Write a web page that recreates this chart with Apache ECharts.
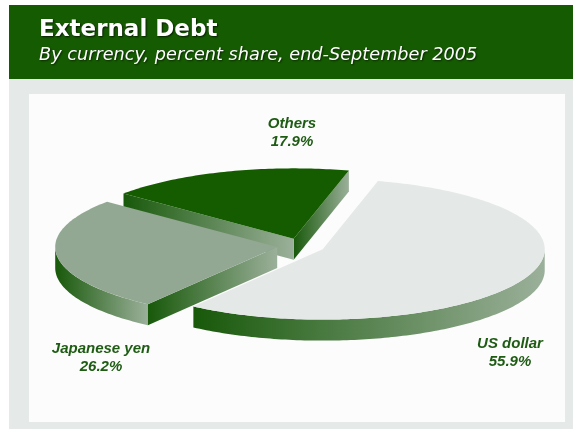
<!DOCTYPE html>
<html>
<head>
<meta charset="utf-8">
<script src="https://cdn.jsdelivr.net/npm/echarts@6/dist/echarts.min.js"></script>
<style>
  html, body { margin: 0; padding: 0; background: #ffffff; }
  #chart { width: 573px; height: 429px; }
</style>
</head>
<body>
<div id="chart"></div>
<script>
// Currency shares, listed counter-clockwise starting from the first slice edge
const categories = ['Others', 'Japanese yen', 'US dollar'];
const shares = [17.9, 26.2, 55.9];

const titleText = 'External Debt';
const subtitleText = 'By currency, percent share, end-September 2005';

// Pie geometry (unit circle on hidden value axes; ellipse comes from the grid aspect)
const START_DEG = 75.6;     // angle of the first slice edge
const EXPLODE = 0.108;      // slice offset along its bisector, in radii
const DEPTH = 21;           // slab thickness in px

const topColors = ['#155b00', '#92a892', '#e4e8e6'];
const SIDE_DARK = '#18590a';
const SIDE_LIGHT = '#9bb09a';

// Build slice angle ranges from the shares
const total = shares.reduce((a, b) => a + b, 0);
const sliceData = [];
let acc = START_DEG;
shares.forEach((v, i) => {
  const span = v / total * 360;
  sliceData.push([acc, acc + span, v, i]);
  acc += span;
});

const rad = d => d * Math.PI / 180;

function sideFill() {
  return new echarts.graphic.LinearGradient(0, 0, 1, 0, [
    { offset: 0, color: SIDE_DARK },
    { offset: 1, color: SIDE_LIGHT }
  ]);
}

function renderSlice(params, api) {
  const s0 = api.value(0), s1 = api.value(1), idx = api.value(3);
  const mid = rad((s0 + s1) / 2);
  const ex = EXPLODE * Math.cos(mid), ey = EXPLODE * Math.sin(mid);
  const pt = deg => api.coord([ex + Math.cos(rad(deg)), ey + Math.sin(rad(deg))]);
  const down = p => [p[0], p[1] + DEPTH];
  const apex = api.coord([ex, ey]);

  const arc = (a, b) => {
    const pts = [];
    const n = Math.max(2, Math.ceil(Math.abs(b - a)));
    for (let k = 0; k <= n; k++) pts.push(pt(a + (b - a) * k / n));
    return pts;
  };

  const children = [];

  // Front part of the rim (where the slab's outer wall faces the viewer)
  for (let base = 180; base <= 540; base += 360) {
    const lo = Math.max(s0, base), hi = Math.min(s1, base + 180);
    if (hi > lo) {
      const topArc = arc(lo, hi);
      const bottomArc = topArc.map(down).reverse();
      children.push({
        type: 'polygon',
        shape: { points: topArc.concat(bottomArc) },
        style: { fill: sideFill() }
      });
    }
  }

  // Radial walls facing the viewer
  const wall = deg => {
    const r = pt(deg);
    children.push({
      type: 'polygon',
      shape: { points: [apex, r, down(r), down(apex)] },
      style: { fill: sideFill() }
    });
  };
  if (Math.cos(rad(s0)) > 0) wall(s0);
  if (Math.cos(rad(s1)) < 0) wall(s1);

  // Top face
  children.push({
    type: 'polygon',
    shape: { points: [apex].concat(arc(s0, s1)) },
    style: { fill: topColors[idx] }
  });

  return { type: 'group', children: children };
}

const labelFont = {
  fontFamily: 'Liberation Sans, Arial, sans-serif',
  fontWeight: 'bold',
  fontStyle: 'italic',
  fontSize: 15,
  lineHeight: 18,
  fill: '#1e5c14',
  textAlign: 'center',
  textVerticalAlign: 'middle',
  align: 'center',
  verticalAlign: 'middle'
};
const labelPos = [[292, 133], [101, 358], [510, 353]];

const labels = categories.map((c, i) => ({
  type: 'text',
  x: labelPos[i][0],
  y: labelPos[i][1],
  z: 10,
  style: Object.assign({ text: c + '\n' + shares[i].toFixed(1) + '%' }, labelFont)
}));

const chart = echarts.init(document.getElementById('chart'), null, { renderer: 'canvas' });

chart.setOption({
  animation: false,
  backgroundColor: '#ffffff',
  grid: { left: 79, top: 175.6, width: 444, height: 140.8 },
  xAxis: { type: 'value', min: -1, max: 1, show: false },
  yAxis: { type: 'value', min: -1, max: 1, show: false },
  graphic: [
    { type: 'rect', shape: { x: 9, y: 5, width: 564, height: 74 }, style: { fill: '#155b02' }, z: -10 },
    { type: 'rect', shape: { x: 9, y: 79, width: 564, height: 350 }, style: { fill: '#e5e9e7' }, z: -10 },
    { type: 'rect', shape: { x: 29, y: 94, width: 536, height: 328 }, style: { fill: '#fcfcfc' }, z: -9 },
    {
      type: 'text', x: 39, y: 30.5, z: 10,
      style: {
        text: titleText, fill: '#ffffff',
        fontFamily: 'DejaVu Sans, sans-serif', fontWeight: 'bold', fontSize: 23,
        verticalAlign: 'middle', textVerticalAlign: 'middle',
        textShadowColor: 'rgba(0,0,0,0.7)', textShadowBlur: 2,
        textShadowOffsetX: 1, textShadowOffsetY: 1
      }
    },
    {
      type: 'text', x: 39, y: 55, z: 10,
      style: {
        text: subtitleText, fill: '#ffffff',
        fontFamily: 'DejaVu Sans, sans-serif', fontStyle: 'italic', fontSize: 17.7,
        verticalAlign: 'middle', textVerticalAlign: 'middle',
        textShadowColor: 'rgba(0,0,0,0.6)', textShadowBlur: 2,
        textShadowOffsetX: 1, textShadowOffsetY: 1
      }
    }
  ].concat(labels),
  series: [{
    type: 'custom',
    coordinateSystem: 'cartesian2d',
    clip: false,
    silent: true,
    encode: { x: -1, y: -1 },
    renderItem: renderSlice,
    data: sliceData
  }]
});
</script>
</body>
</html>
